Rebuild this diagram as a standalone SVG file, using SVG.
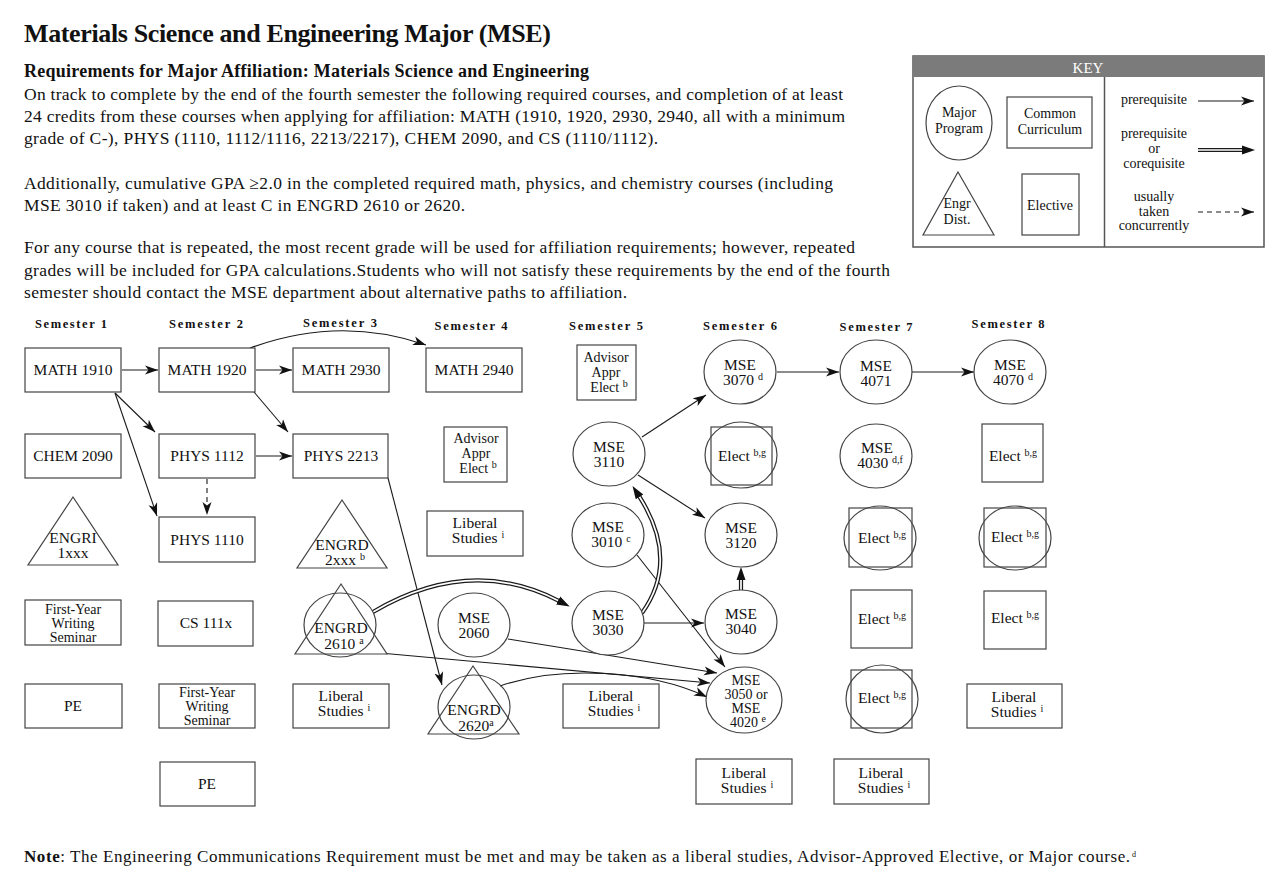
<svg xmlns="http://www.w3.org/2000/svg" width="1280" height="883" viewBox="0 0 1280 883">
<defs>
<style>
text{font-family:"Liberation Serif","Times New Roman",serif;fill:#111}
.t{font-size:26px;font-weight:bold}
.st{font-size:18px;font-weight:bold}
.b{font-size:17.5px}
.sem{font-size:12.5px;font-weight:bold;text-anchor:middle}
.n{font-size:15.5px;text-anchor:middle}
.n2{font-size:14px;text-anchor:middle}
.k{font-size:14px;text-anchor:middle}
.sup{font-size:10px}
.s{fill:#fff;stroke:#444;stroke-width:1.2}
.nf{fill:none;stroke:#444;stroke-width:1.2}
.c{fill:none;stroke:#1a1a1a;stroke-width:1.1}
.dsh{stroke-dasharray:5 4}
.dbk{fill:none;stroke:#1a1a1a;stroke-width:4.2}
.dwh{fill:none;stroke:#fff;stroke-width:1.7}
</style>
<marker id="ah" markerUnits="userSpaceOnUse" markerWidth="14" markerHeight="10" refX="13" refY="5" orient="auto">
<path d="M0,0.5 L13,5 L0,9.5 L3.5,5 z" fill="#111"/>
</marker>
<marker id="ahd" markerUnits="userSpaceOnUse" markerWidth="14" markerHeight="10" refX="1" refY="5" orient="auto">
<path d="M0,0.5 L13,5 L0,9.5 z" fill="#111"/>
</marker>
</defs>
<rect width="1280" height="883" fill="#fff"/>

<g id="header">
<text class="t" x="24" y="42" textLength="527">Materials Science and Engineering Major (MSE)</text>
<text class="st" x="24" y="77" textLength="565">Requirements for Major Affiliation:  Materials Science and Engineering</text>
<text class="b" x="24" y="100" textLength="819">On track to complete by the end of the fourth semester the following required courses, and completion of at least</text>
<text class="b" x="24" y="122" textLength="821">24 credits from these courses when applying for affiliation: MATH (1910, 1920, 2930, 2940, all with a minimum</text>
<text class="b" x="24" y="144" textLength="634">grade of C-), PHYS (1110, 1112/1116, 2213/2217), CHEM 2090, and CS (1110/1112).</text>
<text class="b" x="24" y="189" textLength="809">Additionally, cumulative GPA ≥2.0 in the completed required math, physics, and chemistry courses (including</text>
<text class="b" x="24" y="211" textLength="441">MSE 3010 if taken) and at least C in ENGRD 2610 or 2620.</text>
<text class="b" x="24" y="253" textLength="831">For any course that is repeated, the most recent grade will be used for affiliation requirements; however, repeated</text>
<text class="b" x="24" y="276" textLength="866">grades will be included for GPA calculations.Students who will not satisfy these requirements by the end of the fourth</text>
<text class="b" x="24" y="298" textLength="603">semester should contact the MSE department about alternative paths to affiliation.</text>
</g>

<g id="key">
<rect x="913" y="56" width="351" height="191" fill="#fff" stroke="#555" stroke-width="1.5"/>
<rect x="913" y="56" width="351" height="21" fill="#7b7b7b"/>
<text x="1088" y="73" font-size="15" text-anchor="middle" style="fill:#fff">KEY</text>
<line x1="1104.5" y1="77" x2="1104.5" y2="247" stroke="#555" stroke-width="1.5"/>
<ellipse cx="959" cy="123" rx="33" ry="37" class="s"/>
<text class="k" x="959" y="117">Major</text>
<text class="k" x="959" y="133">Program</text>
<rect x="1007" y="97" width="85" height="51" class="s"/>
<text class="k" x="1050" y="118">Common</text>
<text class="k" x="1050" y="134">Curriculum</text>
<polygon points="958,172 994,235 923,235" class="s"/>
<text class="k" x="957" y="208">Engr</text>
<text class="k" x="957" y="224">Dist.</text>
<rect x="1022" y="174" width="57" height="61" class="s"/>
<text class="k" x="1050" y="210">Elective</text>
<text class="k" x="1154" y="104">prerequisite</text>
<text class="k" x="1154" y="138">prerequisite</text>
<text class="k" x="1154" y="153">or</text>
<text class="k" x="1154" y="168">corequisite</text>
<text class="k" x="1154" y="201">usually</text>
<text class="k" x="1154" y="216">taken</text>
<text class="k" x="1154" y="230">concurrently</text>
<line x1="1198" y1="101" x2="1254" y2="101" class="c" marker-end="url(#ah)"/>
<line x1="1198" y1="150" x2="1243" y2="150" class="dbk"/>
<line x1="1198" y1="150" x2="1243" y2="150" class="dwh" marker-end="url(#ahd)"/>
<line x1="1198" y1="212" x2="1254" y2="212" class="c dsh" marker-end="url(#ah)"/>
</g>

<g id="semesters">
<text class="sem" x="71" y="328" textLength="72">Semester 1</text>
<text class="sem" x="206" y="328" textLength="74">Semester 2</text>
<text class="sem" x="340" y="327" textLength="74">Semester 3</text>
<text class="sem" x="471" y="330" textLength="73">Semester 4</text>
<text class="sem" x="606" y="330" textLength="74">Semester 5</text>
<text class="sem" x="740" y="330" textLength="74">Semester 6</text>
<text class="sem" x="876" y="331" textLength="73">Semester 7</text>
<text class="sem" x="1008" y="328" textLength="73">Semester 8</text>
</g>

<g id="connectors">
<line x1="122" y1="370" x2="158" y2="370" class="c" marker-end="url(#ah)"/>
<line x1="256" y1="370" x2="292" y2="370" class="c" marker-end="url(#ah)"/>
<path d="M250,348 Q340,315 426,345" class="c" marker-end="url(#ah)"/>
<line x1="115" y1="393" x2="155" y2="432" class="c" marker-end="url(#ah)"/>
<line x1="115" y1="393" x2="157" y2="516" class="c" marker-end="url(#ah)"/>
<line x1="254" y1="392" x2="288" y2="432" class="c" marker-end="url(#ah)"/>
<line x1="256" y1="456" x2="292" y2="456" class="c" marker-end="url(#ah)"/>
<line x1="207" y1="479" x2="207" y2="515" class="c dsh" marker-end="url(#ah)"/>
<line x1="388" y1="478" x2="442" y2="685" class="c" marker-end="url(#ah)"/>
<line x1="380" y1="653" x2="710" y2="683" class="c" marker-end="url(#ah)"/>
<line x1="508" y1="639" x2="717" y2="673" class="c" marker-end="url(#ah)"/>
<line x1="637" y1="555" x2="725" y2="667" class="c" marker-end="url(#ah)"/>
<path d="M500,686 C560,665 650,670 707,697" class="c" marker-end="url(#ah)"/>
<line x1="644" y1="623" x2="704" y2="623" class="c" marker-end="url(#ah)"/>
<line x1="642" y1="437" x2="706" y2="395" class="c" marker-end="url(#ah)"/>
<line x1="638" y1="475" x2="705" y2="518" class="c" marker-end="url(#ah)"/>
<line x1="777" y1="372" x2="839" y2="372" class="c" marker-end="url(#ah)"/>
<line x1="912" y1="372" x2="974" y2="372" class="c" marker-end="url(#ah)"/>
<path d="M373,612 Q470,555 559,601" class="dbk"/>
<path d="M373,612 Q470,555 559,601" class="dwh" marker-end="url(#ahd)"/>
<path d="M642,613 Q680,560 639,496" class="dbk"/>
<path d="M642,613 Q680,560 639,496" class="dwh" marker-end="url(#ahd)"/>
<line x1="741" y1="591" x2="741" y2="579" class="dbk"/>
<line x1="741" y1="591" x2="741" y2="579" class="dwh" marker-end="url(#ahd)"/>
</g>

<g id="n-math1910"><rect x="25" y="348" width="96" height="44" class="s"/><text class="n" x="73" y="375">MATH 1910</text></g>
<g id="n-chem2090"><rect x="25" y="434" width="96" height="44" class="s"/><text class="n" x="73" y="461">CHEM 2090</text></g>
<g id="n-engri1xxx"><polygon points="73,497 118,565 28,565" class="s"/><text class="n" x="73" y="543">ENGRI</text><text class="n" x="73" y="558">1xxx</text></g>
<g id="n-fyws1"><rect x="25" y="600" width="96" height="45" class="s"/><text class="n2" x="73" y="614">First-Year</text><text class="n2" x="73" y="628">Writing</text><text class="n2" x="73" y="642">Seminar</text></g>
<g id="n-pe1"><rect x="25" y="684" width="97" height="44" class="s"/><text class="n" x="73" y="711">PE</text></g>

<g id="n-math1920"><rect x="159" y="348" width="96" height="44" class="s"/><text class="n" x="207" y="375">MATH 1920</text></g>
<g id="n-phys1112"><rect x="159" y="434" width="96" height="44" class="s"/><text class="n" x="207" y="461">PHYS 1112</text></g>
<g id="n-phys1110"><rect x="159" y="517" width="96" height="45" class="s"/><text class="n" x="207" y="545">PHYS 1110</text></g>
<g id="n-cs111x"><rect x="158" y="601" width="95" height="45" class="s"/><text class="n" x="206" y="628">CS 111x</text></g>
<g id="n-fyws2"><rect x="159" y="684" width="96" height="44" class="s"/><text class="n2" x="207" y="697">First-Year</text><text class="n2" x="207" y="711">Writing</text><text class="n2" x="207" y="725">Seminar</text></g>
<g id="n-pe2"><rect x="160" y="762" width="95" height="44" class="s"/><text class="n" x="207" y="789">PE</text></g>

<g id="n-math2930"><rect x="293" y="348" width="96" height="44" class="s"/><text class="n" x="341" y="375">MATH 2930</text></g>
<g id="n-phys2213"><rect x="293" y="434" width="95" height="44" class="s"/><text class="n" x="341" y="461">PHYS 2213</text></g>
<g id="n-engrd2xxx"><polygon points="342,500 387,568 297,568" class="s"/><text class="n" x="342" y="550">ENGRD</text><text class="n" x="345" y="565">2xxx <tspan class="sup" dy="-5">b</tspan></text></g>
<g id="n-engrd2610"><polygon points="341,584 387,654 295,654" class="s"/><ellipse cx="340" cy="625" rx="36" ry="32" class="nf"/><text class="n" x="341" y="633">ENGRD</text><text class="n" x="344" y="649">2610 <tspan class="sup" dy="-5">a</tspan></text></g>
<g id="n-libst3"><rect x="293" y="684" width="96" height="44" class="s"/><text class="n" x="341" y="701">Liberal</text><text class="n" x="344" y="716">Studies <tspan class="sup" dy="-5">i</tspan></text></g>

<g id="n-math2940"><rect x="426" y="348" width="96" height="44" class="s"/><text class="n" x="474" y="375">MATH 2940</text></g>
<g id="n-advappr4"><rect x="444" y="427" width="63" height="55" class="s"/><text class="n2" x="476" y="443">Advisor</text><text class="n2" x="476" y="458">Appr</text><text class="n2" x="478" y="473">Elect <tspan class="sup" dy="-5">b</tspan></text></g>
<g id="n-libst4"><rect x="427" y="511" width="96" height="45" class="s"/><text class="n" x="475" y="528">Liberal</text><text class="n" x="478" y="543">Studies <tspan class="sup" dy="-5">i</tspan></text></g>
<g id="n-engrd2620"><polygon points="473,666 519,734 428,734" class="s"/><ellipse cx="474" cy="707" rx="36" ry="32" class="nf"/><text class="n" x="474" y="715">ENGRD</text><text class="n" x="476" y="731">2620<tspan class="sup" dy="-5">a</tspan></text></g>
<g id="n-mse2060"><ellipse cx="474" cy="625" rx="36" ry="32" class="s"/><text class="n" x="474" y="623">MSE</text><text class="n" x="474" y="638">2060</text></g>

<g id="n-advappr5"><rect x="577" y="345" width="59" height="55" class="s"/><text class="n2" x="606" y="362">Advisor</text><text class="n2" x="606" y="377">Appr</text><text class="n2" x="609" y="392">Elect <tspan class="sup" dy="-5">b</tspan></text></g>
<g id="n-mse3110"><ellipse cx="609" cy="454" rx="36" ry="32" class="s"/><text class="n" x="609" y="452">MSE</text><text class="n" x="609" y="467">3110</text></g>
<g id="n-mse3010"><ellipse cx="608" cy="535" rx="36" ry="32" class="s"/><text class="n" x="608" y="532">MSE</text><text class="n" x="611" y="547">3010 <tspan class="sup" dy="-5">c</tspan></text></g>
<g id="n-mse3030"><ellipse cx="608" cy="623" rx="36" ry="32" class="s"/><text class="n" x="608" y="620">MSE</text><text class="n" x="608" y="635">3030</text></g>
<g id="n-libst5"><rect x="563" y="684" width="96" height="44" class="s"/><text class="n" x="611" y="701">Liberal</text><text class="n" x="614" y="716">Studies <tspan class="sup" dy="-5">i</tspan></text></g>

<g id="n-mse3070"><ellipse cx="740" cy="372" rx="36" ry="32" class="s"/><text class="n" x="740" y="370">MSE</text><text class="n" x="743" y="385">3070 <tspan class="sup" dy="-5">d</tspan></text></g>
<g id="n-elect6"><rect x="711" y="427" width="61" height="58" class="s"/><ellipse cx="741" cy="455" rx="36" ry="33" class="nf"/><text class="n" x="742" y="461">Elect <tspan class="sup" dy="-5">b,g</tspan></text></g>
<g id="n-mse3120"><ellipse cx="741" cy="535" rx="36" ry="32" class="s"/><text class="n" x="741" y="533">MSE</text><text class="n" x="741" y="548">3120</text></g>
<g id="n-mse3040"><ellipse cx="741" cy="622" rx="36" ry="32" class="s"/><text class="n" x="741" y="619">MSE</text><text class="n" x="741" y="634">3040</text></g>
<g id="n-mse3050"><ellipse cx="744" cy="700" rx="38" ry="33" class="s"/><text class="n2" x="746" y="685">MSE</text><text class="n2" x="746" y="699">3050 or</text><text class="n2" x="746" y="713">MSE</text><text class="n2" x="748" y="727">4020 <tspan class="sup" dy="-5">e</tspan></text></g>
<g id="n-libst6"><rect x="696" y="759" width="96" height="45" class="s"/><text class="n" x="744" y="778">Liberal</text><text class="n" x="747" y="793">Studies <tspan class="sup" dy="-5">i</tspan></text></g>

<g id="n-mse4071"><ellipse cx="876" cy="372" rx="36" ry="32" class="s"/><text class="n" x="876" y="371">MSE</text><text class="n" x="876" y="386">4071</text></g>
<g id="n-mse4030"><ellipse cx="876" cy="456" rx="36" ry="32" class="s"/><text class="n" x="877" y="453">MSE</text><text class="n" x="880" y="468">4030 <tspan class="sup" dy="-5">d,f</tspan></text></g>
<g id="n-elect7a"><rect x="849" y="508" width="63" height="59" class="s"/><ellipse cx="880" cy="538" rx="36" ry="32" class="nf"/><text class="n" x="882" y="543">Elect <tspan class="sup" dy="-5">b,g</tspan></text></g>
<g id="n-elect7b"><rect x="851" y="590" width="61" height="58" class="s"/><text class="n" x="882" y="624">Elect <tspan class="sup" dy="-5">b,g</tspan></text></g>
<g id="n-elect7c"><rect x="851" y="670" width="61" height="58" class="s"/><ellipse cx="882" cy="699" rx="36" ry="34" class="nf"/><text class="n" x="882" y="703">Elect <tspan class="sup" dy="-5">b,g</tspan></text></g>
<g id="n-libst7"><rect x="834" y="759" width="95" height="45" class="s"/><text class="n" x="881" y="778">Liberal</text><text class="n" x="884" y="793">Studies <tspan class="sup" dy="-5">i</tspan></text></g>

<g id="n-mse4070"><ellipse cx="1010" cy="372" rx="36" ry="32" class="s"/><text class="n" x="1010" y="370">MSE</text><text class="n" x="1013" y="385">4070 <tspan class="sup" dy="-5">d</tspan></text></g>
<g id="n-elect8a"><rect x="982" y="424" width="61" height="58" class="s"/><text class="n" x="1013" y="461">Elect <tspan class="sup" dy="-5">b,g</tspan></text></g>
<g id="n-elect8b"><rect x="984" y="508" width="62" height="59" class="s"/><ellipse cx="1015" cy="538" rx="36" ry="32" class="nf"/><text class="n" x="1015" y="542">Elect <tspan class="sup" dy="-5">b,g</tspan></text></g>
<g id="n-elect8c"><rect x="984" y="591" width="62" height="58" class="s"/><text class="n" x="1015" y="623">Elect <tspan class="sup" dy="-5">b,g</tspan></text></g>
<g id="n-libst8"><rect x="967" y="684" width="95" height="44" class="s"/><text class="n" x="1014" y="702">Liberal</text><text class="n" x="1017" y="717">Studies <tspan class="sup" dy="-5">i</tspan></text></g>

<g id="note">
<text x="24" y="862" font-size="17" textLength="1106"><tspan font-weight="bold">Note</tspan>: The Engineering Communications Requirement must be met and may be taken as a liberal studies, Advisor-Approved Elective, or Major course.</text>
<text x="1132" y="857" font-size="8">d</text>
</g>
</svg>
